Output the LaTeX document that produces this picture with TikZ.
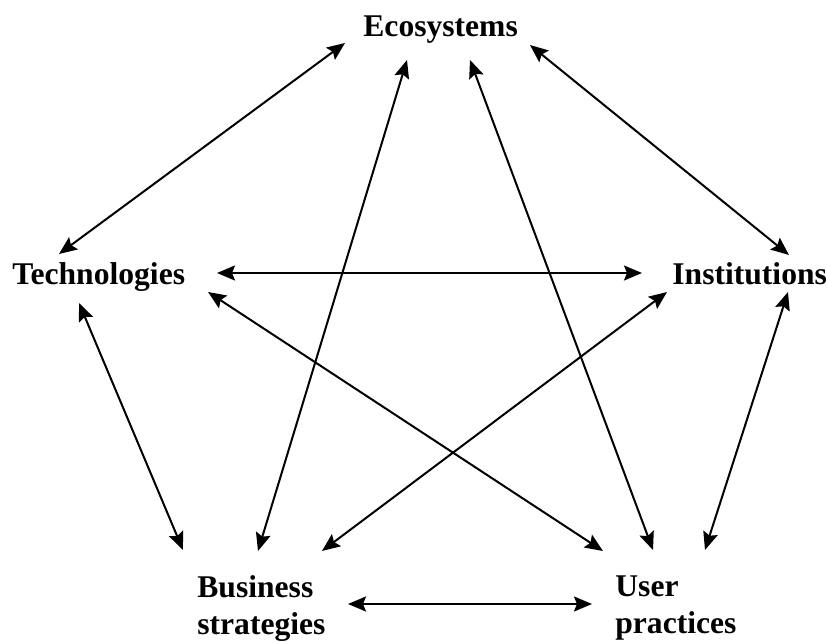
\documentclass[tikz,border=0pt]{standalone}
\usepackage{fontspec}
\setmainfont{Liberation Serif}
\usetikzlibrary{arrows.meta}
\begin{document}
\begin{tikzpicture}[x=0.5pt, y=-0.5pt, line cap=round,
    lbl/.style={inner sep=0, font=\fontsize{15.8}{18.5}\selectfont\bfseries},
    link/.style={{Stealth[length=9pt,width=7.5pt,inset=1.5pt]}-{Stealth[length=9pt,width=7.5pt,inset=1.5pt]}, line width=1pt}]
      \useasboundingbox (0,0) rectangle (827,642);

      \node[lbl, anchor=base west] (eco) at (363,37) {Ecosystems};
      \node[lbl, anchor=base west] (tech) at (12,285) {Technologies};
      \node[lbl, anchor=base west] (inst) at (672,285) {Institutions};
      \node[lbl, anchor=north west, align=left] (bus) at (197,575) {Business\\strategies};
      \node[lbl, anchor=north west, align=left] (user) at (615,575) {User\\practices};

      \draw[link] ([shift={(-18,6)}]eco.base west)--([shift={(47,-31)}]tech.base west);
      \draw[link] ([shift={(167,8)}]eco.base west)--([shift={(117,-30)}]inst.base west);
      \draw[link] ([shift={(44,23)}]eco.base west)--([shift={(61,-24)}]bus.north west);
      \draw[link] ([shift={(107,23)}]eco.base west)--([shift={(38,-25)}]user.north west);
      \draw[link] ([shift={(205,-12)}]tech.base west)--([shift={(-30,-12)}]inst.base west);
      \draw[link] ([shift={(196,7)}]tech.base west)--([shift={(-12,-24)}]user.north west);
      \draw[link] ([shift={(67,18)}]tech.base west)--([shift={(-14,-25)}]bus.north west);
      \draw[link] ([shift={(-5,7)}]inst.base west)--([shift={(125,-24)}]bus.north west);
      \draw[link] ([shift={(116,7)}]inst.base west)--([shift={(90,-25)}]user.north west);
      \draw[link] ([shift={(151,29)}]bus.north west)--([shift={(-23,29)}]user.north west);
    \end{tikzpicture}
\end{document}
